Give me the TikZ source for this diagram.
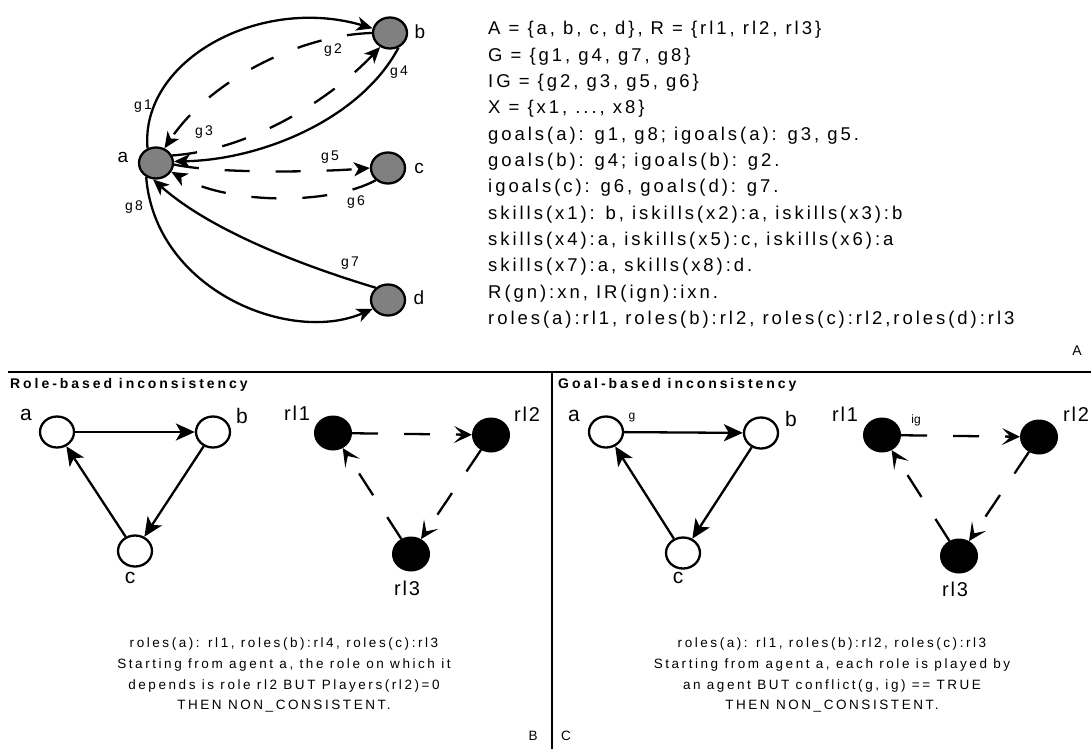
\documentclass[tikz,border=0pt]{standalone}
\usepackage{fontspec}
\setmainfont{Liberation Sans}
\newfontfamily\factsfont[LetterSpace=16]{Liberation Sans}
\newfontfamily\tagfont[LetterSpace=16]{Liberation Sans}
\newfontfamily\rolefont[LetterSpace=9]{Liberation Sans}
\newfontfamily\headfont[LetterSpace=21]{Liberation Sans}
\newfontfamily\notefont[LetterSpace=19]{Liberation Sans}
\usetikzlibrary{arrows.meta,shapes.geometric}

\definecolor{agentgray}{RGB}{128,128,128}

\tikzset{
  agent/.style={ellipse, draw=black, line width=2.3pt, fill=agentgray,
    minimum width=34pt, minimum height=31pt, inner sep=0pt},
  wagent/.style={ellipse, draw=black, line width=2.3pt, fill=white,
    minimum width=34pt, minimum height=31pt, inner sep=0pt},
  roleball/.style={ellipse, draw=black, line width=1pt, fill=black,
    minimum width=37pt, minimum height=34pt, inner sep=0pt},
  nlabel/.style={font=\fontsize{19}{19}\selectfont, inner sep=0pt},
  blabel/.style={font=\fontsize{21}{21}\selectfont, inner sep=0pt},
  rlabel/.style={font=\rolefont\fontsize{20}{20}\selectfont, inner sep=0pt},
  elabel/.style={font=\tagfont\fontsize{14}{14}\selectfont, inner sep=0pt},
  slabel/.style={font=\fontsize{12}{12}\selectfont, inner sep=0pt},
  fact/.style={font=\factsfont\fontsize{18.5}{18.5}\selectfont, inner sep=0pt, anchor=base west},
  note/.style={font=\notefont\fontsize{13.5}{13.5}\selectfont, inner sep=0pt, anchor=base},
  header/.style={font=\headfont\bfseries\fontsize{14}{14}\selectfont, inner sep=0pt, anchor=west},
  rule/.style={line width=2.5pt, draw=black},
  goaledge/.style={line width=2.3pt, -{Stealth[length=16pt, width=14pt, inset=4.5pt]}},
  igoaledge/.style={goaledge, dash pattern=on 25pt off 26pt},
  depedge/.style={line width=2.3pt, -{Stealth[length=19pt, width=17pt, inset=5pt]}},
  roledep/.style={line width=2.3pt, dash pattern=on 26pt off 26pt,
    -{Stealth[length=18pt, width=17pt, inset=8.5pt]}},
}

\begin{document}
\begin{tikzpicture}[x=1pt, y=-1pt]
\useasboundingbox (0,0) rectangle (1091,749);

% ---------- agent / goal graph ----------
\node[agent] (a) at (156,163) {};
\node[agent] (b) at (390,33) {};
\node[agent] (c) at (388,168) {};
\node[agent] (d) at (388,300) {};

\node[nlabel] (la) at (123,157) {a};
\node[nlabel] (lb) at (420,32) {b};
\node[nlabel] (lc) at (419,168) {c};
\node[nlabel] (ld) at (419,298) {d};

\draw[goaledge]  (a.120) .. controls (140,60) and (260,-5) .. (b.165);
\draw[goaledge]  (b.-60) .. controls (360,120) and (260,160) .. (a.5);
\draw[igoaledge] (b.180) .. controls (300,35) and (210,80) .. (a.60);
\draw[igoaledge] (a.25) .. controls (250,150) and (330,100) .. (b.-125);
\draw[igoaledge] (a.-5) .. controls (220,174) and (320,172) .. (c.180);
\draw[igoaledge] (c.-135) .. controls (330,205) and (230,205) .. (a.-30);
\draw[goaledge]  (d.135) .. controls (300,265) and (210,230) .. (a.-100);
\draw[goaledge]  (a.-125) .. controls (155,290) and (290,345) .. (d.-150);

\node[elabel] (g1) at (143,106) {g1};
\node[elabel] (g2) at (333,50) {g2};
\node[elabel] (g3) at (204,132) {g3};
\node[elabel] (g4) at (399,72) {g4};
\node[elabel] (g5) at (330,157) {g5};
\node[elabel] (g6) at (356,202) {g6};
\node[elabel] (g7) at (350,263) {g7};
\node[elabel] (g8) at (134,207) {g8};

% ---------- facts ----------
\node[fact] (f1)  at (488,35)    {A = \{a, b, c, d\}, R = \{rl1, rl2, rl3\}};
\node[fact] (f2)  at (488,61.3)  {G = \{g1, g4, g7, g8\}};
\node[fact] (f3)  at (488,87.6)  {IG = \{g2, g3, g5, g6\}};
\node[fact] (f4)  at (488,113.9) {X = \{x1, ..., x8\}};
\node[fact] (f5)  at (488,140.2) {goals(a): g1, g8; igoals(a): g3, g5.};
\node[fact] (f6)  at (488,166.5) {goals(b): g4; igoals(b): g2.};
\node[fact] (f7)  at (488,192.8) {igoals(c): g6, goals(d): g7.};
\node[fact] (f8)  at (488,219.1) {skills(x1): b, iskills(x2):a, iskills(x3):b};
\node[fact] (f9)  at (488,245.4) {skills(x4):a, iskills(x5):c, iskills(x6):a};
\node[fact] (f10) at (488,271.7) {skills(x7):a, skills(x8):d.};
\node[fact] (f11) at (488,298)   {R(gn):xn, IR(ign):ixn.};
\node[fact] (f12) at (488,324.3) {roles(a):rl1, roles(b):rl2, roles(c):rl2,roles(d):rl3};

\node[font=\fontsize{14}{14}\selectfont, inner sep=0pt] (pA) at (1077,351) {A};

% ---------- frame ----------
\coordinate (hl) at (8,372);
\coordinate (hr) at (1091,372);
\coordinate (vt) at (552,372);
\coordinate (vb) at (552,749);
\draw[rule] (hl) -- (hr);
\draw[rule] (vt) -- (vb);

% ---------- role-based inconsistency ----------
\node[header] (hB) at (10,385) {Role-based inconsistency};

\node[wagent] (ba) at (57,432) {};
\node[wagent] (bb) at (213,432) {};
\node[wagent] (bc) at (135,551) {};
\node[blabel] (lba) at (26,415) {a};
\node[blabel] (lbb) at (242,416) {b};
\node[blabel] (lbc) at (130,578) {c};
\draw[depedge] (ba) -- (bb);
\draw[depedge] (bb) -- (bc);
\draw[depedge] (bc) -- (ba);

\node[roleball] (br1) at (333,433) {};
\node[roleball] (br2) at (491,435) {};
\node[roleball] (br3) at (411,554) {};
\node[rlabel] (lbr1) at (297,413) {rl1};
\node[rlabel] (lbr2) at (527,414) {rl2};
\node[rlabel] (lbr3) at (407,588) {rl3};
\draw[roledep] (br1) -- (br2);
\draw[roledep] (br2) -- (br3);
\draw[roledep] (br3) -- (br1);

\node[note] (nB1) at (284,647.5) {roles(a): rl1, roles(b):rl4, roles(c):rl3};
\node[note] (nB2) at (284,668.2) {Starting from agent a, the role on which it};
\node[note] (nB3) at (284,689)   {depends is role rl2 BUT Players(rl2)=0};
\node[note] (nB4) at (284,709.8) {THEN NON\_CONSISTENT.};
\node[note, anchor=center] (pB) at (533,736) {B};

% ---------- goal-based inconsistency ----------
\node[header] (hC) at (558,385) {Goal-based inconsistency};

\node[wagent] (ca) at (606,432) {};
\node[wagent] (cb) at (761,433) {};
\node[wagent] (cc) at (683,553) {};
\node[blabel] (lca) at (574,416) {a};
\node[slabel] (lcg) at (632,418) {g};
\node[blabel] (lcb) at (791,419) {b};
\node[blabel] (lcc) at (678,578) {c};
\draw[depedge] (ca) -- (cb);
\draw[depedge] (cb) -- (cc);
\draw[depedge] (cc) -- (ca);

\node[roleball] (cr1) at (882,435) {};
\node[roleball] (cr2) at (1039,437) {};
\node[roleball] (cr3) at (959,556) {};
\node[rlabel] (lcr1) at (845,414) {rl1};
\node[slabel] (lcig) at (916,420) {ig};
\node[rlabel] (lcr2) at (1076,414) {rl2};
\node[rlabel] (lcr3) at (955,589) {rl3};
\draw[roledep] (cr1) -- (cr2);
\draw[roledep] (cr2) -- (cr3);
\draw[roledep] (cr3) -- (cr1);

\node[note] (nC1) at (832,647.5) {roles(a): rl1, roles(b):rl2, roles(c):rl3};
\node[note] (nC2) at (832,668.2) {Starting from agent a, each role is played by};
\node[note] (nC3) at (832,689)   {an agent BUT conflict(g, ig) == TRUE};
\node[note] (nC4) at (832,709.8) {THEN NON\_CONSISTENT.};
\node[note, anchor=center] (pC) at (566,736) {C};
\end{tikzpicture}
\end{document}
